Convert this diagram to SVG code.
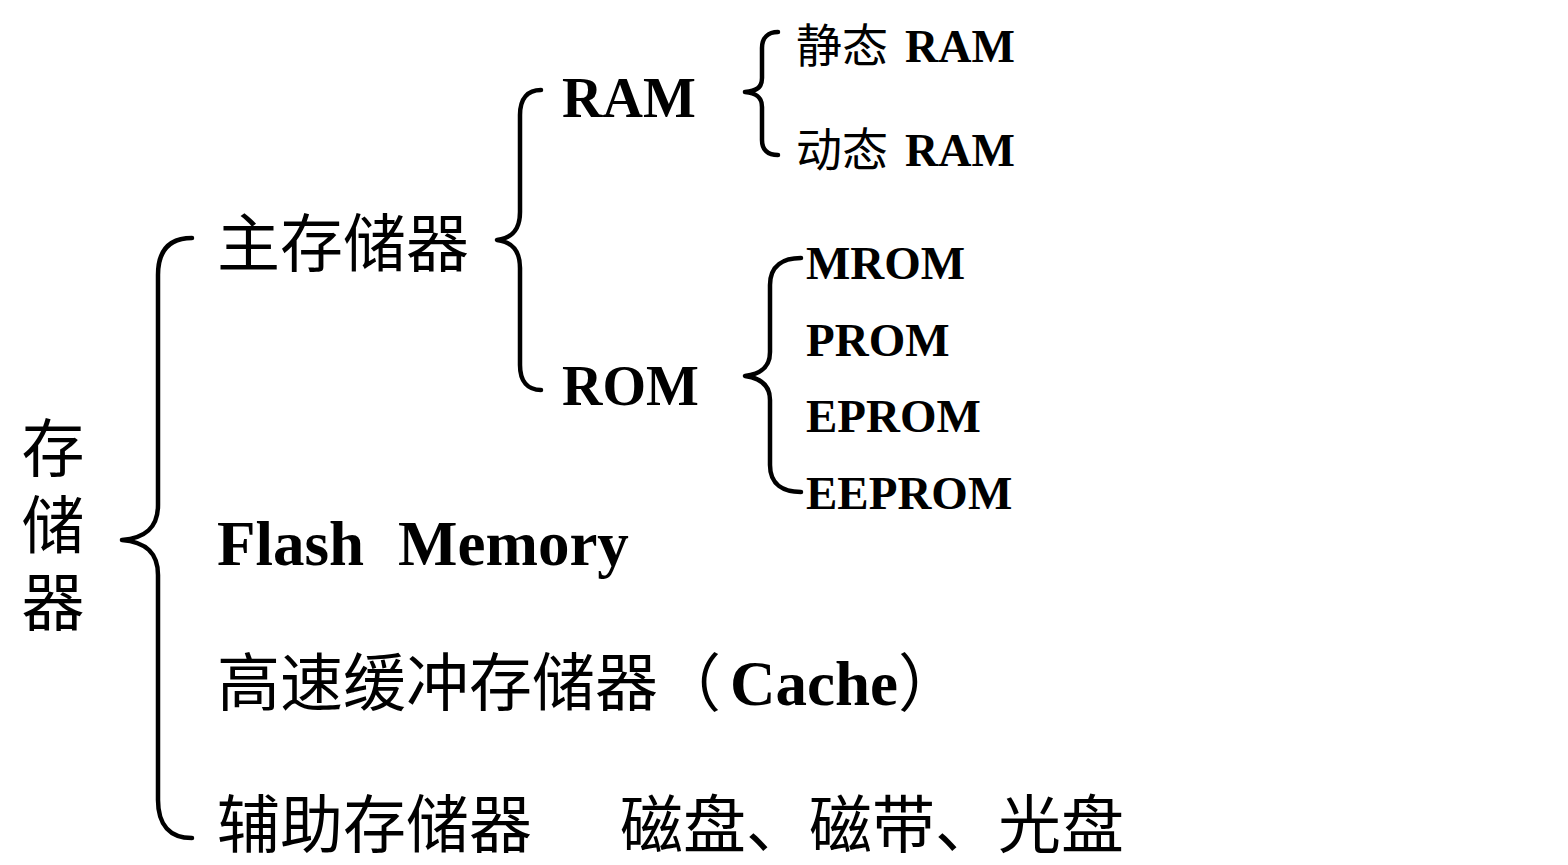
<svg xmlns="http://www.w3.org/2000/svg" width="1568" height="865" viewBox="0 0 1568 865">
<style>
.br{fill:none;stroke:#000;stroke-width:4.5;stroke-linecap:round;stroke-linejoin:round}
text{fill:#000;font-family:"Liberation Serif","Noto Sans CJK SC",serif;font-weight:bold}
.cjk{font-family:"Noto Sans CJK SC","Liberation Serif",sans-serif;font-weight:normal}
.l{font-size:63px}
.m{font-size:56px}
.s{font-size:46px}
.xs{font-size:47px}
</style>
<rect width="1568" height="865" fill="#fff"/>
<g id="connectors">
<path class="br" d="M192,238 C170,238 158,250 158,275 L158,505 C158,528 145,538 122,540 C145,542 158,552 158,575 L158,800 C158,825 170,838 192,838"/>
<path class="br" d="M541,90 C528,90 520,98 520,115 L520,212 C520,230 512,238 497,240 C512,242 520,250 520,268 L520,365 C520,382 528,390 541,390"/>
<path class="br" d="M778,32 C768,32 762,38 762,48 L762,78 C762,88 756,91 745,92 C756,93 762,97 762,107 L762,140 C762,150 768,155 778,155"/>
<path class="br" d="M801,258 C784,258 770,265 770,285 L770,352 C770,368 760,374 745,376 C760,378 770,385 770,400 L770,465 C770,485 784,492 801,492"/>
</g>
<g id="root">
<text class="cjk l" x="53" y="416" writing-mode="vertical-rl" letter-spacing="14">存储器</text>
</g>
<g id="main"><text class="cjk l" x="217" y="266">主存储器</text></g>
<g id="ram"><text class="m" x="562" y="117">RAM</text></g>
<g id="rom"><text class="m" x="562" y="405">ROM</text></g>
<g id="sram"><text class="s" x="796" y="62"><tspan class="cjk">静态</tspan><tspan x="905">RAM</tspan></text></g>
<g id="dram"><text class="s" x="796" y="166"><tspan class="cjk">动态</tspan><tspan x="905">RAM</tspan></text></g>
<g id="mrom"><text class="xs" x="806" y="279">MROM</text></g>
<g id="prom"><text class="xs" x="806" y="356">PROM</text></g>
<g id="eprom"><text class="xs" x="806" y="432">EPROM</text></g>
<g id="eeprom"><text class="xs" x="806" y="509">EEPROM</text></g>
<g id="flash"><text class="l" x="217" y="565">Flash<tspan x="398">Memory</tspan></text></g>
<g id="cache"><text class="l" x="217" y="705"><tspan class="cjk">高速缓冲存储器（</tspan><tspan x="730">Cache</tspan><tspan class="cjk">）</tspan></text></g>
<g id="aux"><text class="cjk l" x="217" y="847">辅助存储器<tspan x="620">磁盘、磁带、光盘</tspan></text></g>
</svg>
